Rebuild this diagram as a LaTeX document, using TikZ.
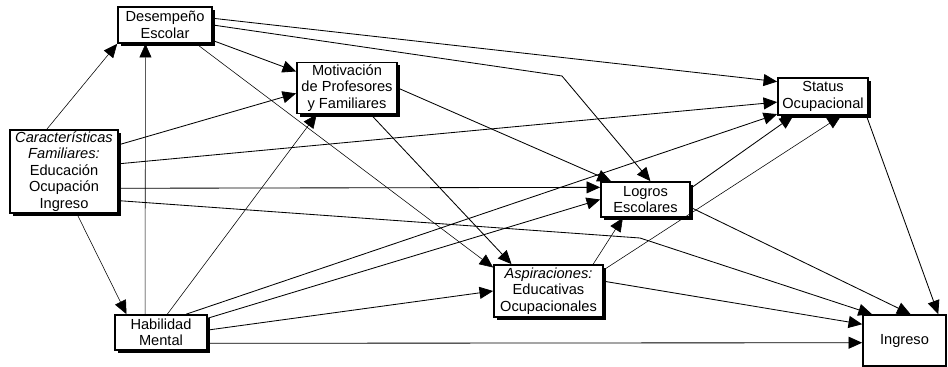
\documentclass[tikz,border=0pt]{standalone}
\usepackage{fontspec}
\setmainfont{Liberation Sans}
\usetikzlibrary{arrows.meta,shadows}

\begin{document}
\begin{tikzpicture}[x=0.025cm, y=-0.025cm,
    every node/.style={font=\fontsize{10.4}{11.7}\selectfont, align=center, inner sep=0pt},
    box/.style={draw, line width=1.2pt, fill=white,
        drop shadow={shadow xshift=0.075cm, shadow yshift=-0.075cm, opacity=1, fill=black}},
    link/.style={line width=0.6pt, -{Triangle[length=0.34cm, width=0.3cm]}},
    faint/.style={link, line width=0.4pt}]
    \useasboundingbox (0,0) rectangle (948,367);

    % Boxes
    \node[box, minimum width=2.35cm, minimum height=0.9cm] (desemp) at (165,25) {Desempeño\\Escolar};
    \node[box, minimum width=2.5cm, minimum height=1.275cm] (motiv) at (347,88) {Motivación\\de Profesores\\y Familiares};
    \node[box, minimum width=2.25cm, minimum height=0.925cm] (status) at (823,96.5) {Status\\Ocupacional};
    \node[box, minimum width=2.7cm, minimum height=2.075cm] (carac) at (64,171.5)
        {\textit{Características}\\\textit{Familiares:}\\Educación\\Ocupación\\Ingreso};
    \node[box, minimum width=2.225cm, minimum height=0.875cm] (logros) at (645.5,199.5) {Logros\\Escolares};
    \node[box, minimum width=2.725cm, minimum height=1.3cm] (aspir) at (548.5,291)
        {\textit{Aspiraciones:}\\Educativas\\Ocupacionales};
    \node[box, minimum width=2.3cm, minimum height=0.875cm] (habil) at (161,332.5) {Habilidad\\Mental};
    \node[draw, line width=1.2pt, minimum width=2.075cm, minimum height=1.275cm] (ingreso) at (904.5,340.5) {Ingreso};

    % Paths (source/angle/target/angle)
    \foreach \s/\sa/\t/\ta in {carac/26/motiv/186, desemp/-18/motiv/162,
        carac/8/status/187, carac/-17/logros/165.5, desemp/8.5/status/162,
        motiv/-48/aspir/144, motiv/east/logros/152, habil/36/status/201,
        habil/17.5/logros/west, habil/3/aspir/west, habil/-13/ingreso/183.4,
        aspir/10.4/ingreso/159.5, logros/14.5/status/213.5,
        logros/-10.8/ingreso/77.8, status/-24.3/ingreso/38.1}
        \draw[link] (\s.\sa) -- (\t.\ta);

    % thinner ones
    \foreach \s/\sa/\t/\ta in {carac/112/desemp/south west, habil/131/desemp/224,
        habil/71/motiv/221, carac/-73/habil/152, desemp/-31/aspir/157,
        aspir/31/logros/219, aspir/21/status/-47.4}
        \draw[faint] (\s.\sa) -- (\t.\ta);

    % bent ones
    \coordinate (kinkA) at (640,238);
    \coordinate (kinkB) at (562,76);
    \draw[link] (carac.-28.6) -- (kinkA) -- (ingreso.141);
    \draw[link] (desemp.east) -- (kinkB) -- (logros.75.6);
\end{tikzpicture}
\end{document}
